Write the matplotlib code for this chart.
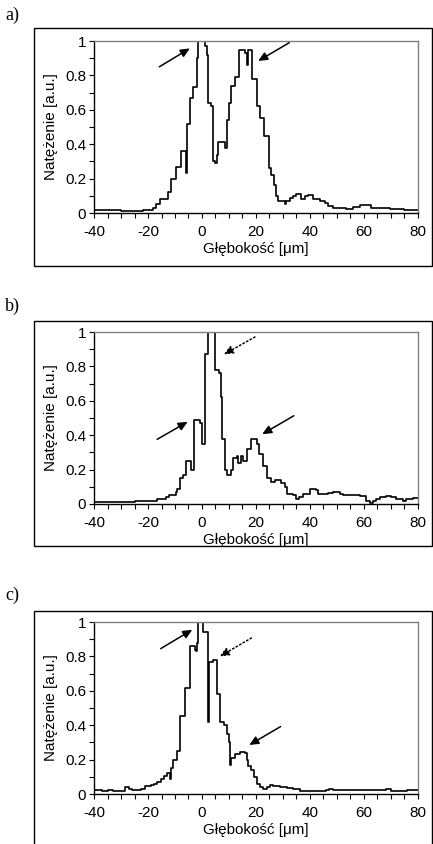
import matplotlib
matplotlib.use('Agg')
import matplotlib.pyplot as plt
from matplotlib.patches import Rectangle
from matplotlib.ticker import MultipleLocator

plt.rcParams['font.family'] = ['Liberation Sans', 'DejaVu Sans']
plt.rcParams['axes.unicode_minus'] = False

# panel a) - step profile (step start, value)
xa = [-40, -30, -22, -19, -18, -17, -15.6, -12.5, -11.3, -9.7, -7.6, -6.0, -5.7, -4.5, -3.2, -2, -1.4,
      1.1, 1.7, 2.3, 3.2, 4.2, 5.0, 5.4, 6, 8.5, 9.1, 10, 10.7, 12.2, 13.7, 15.9, 16.5, 17.1, 18.7,
      20.2, 21.4, 23, 24.9, 25.7, 26.6, 27.3, 28.2, 30.7, 31.2, 32.5, 33.7, 35, 36.8, 38, 39.3, 41.2,
      43.6, 45.5, 46.7, 48.6, 51, 53.5, 56, 58.4, 60.9, 62.7, 65.8, 69.5, 73.2, 75, 80]
ya = [0.015, 0.01, 0.015, 0.02, 0.03, 0.05, 0.08, 0.12, 0.2, 0.27, 0.36, 0.23, 0.52, 0.67, 0.73, 0.9, 1.0,
      0.97, 0.92, 0.64, 0.62, 0.3, 0.29, 0.34, 0.41, 0.38, 0.54, 0.64, 0.74, 0.79, 0.95, 0.93, 0.86, 0.95, 0.78,
      0.62, 0.55, 0.45, 0.26, 0.22, 0.16, 0.1, 0.07, 0.055, 0.07, 0.085, 0.1, 0.11, 0.08, 0.1, 0.105, 0.08,
      0.07, 0.06, 0.04, 0.03, 0.03, 0.025, 0.035, 0.045, 0.045, 0.03, 0.03, 0.025, 0.025, 0.015, 0.015]

# panel b)
xb = [-40, -30, -25, -18, -16.5, -13.5, -12.2, -9.8, -9.1, -8, -7, -6, -4.2, -3, -0.7, 0.1, 1.1, 2.3,
      4.8, 6.3, 6.9, 7.5, 8.4, 9.4, 10.6, 11.6, 13, 13.4, 14.3, 15.3, 16.5, 18, 20.2, 21, 22.7, 23.9,
      25.7, 27, 29.4, 30.7, 31.5, 33.7, 35, 36, 37.5, 39.9, 42.4, 43, 46.7, 48.6, 51, 52.3, 58.4, 60.9,
      62.1, 63.5, 64.6, 66, 68.3, 70, 72, 74.5, 75.7, 78, 80]
yb = [0.01, 0.012, 0.02, 0.02, 0.03, 0.04, 0.05, 0.07, 0.09, 0.15, 0.17, 0.25, 0.2, 0.49, 0.47, 0.35, 0.87, 1.0,
      0.78, 0.76, 0.62, 0.38, 0.2, 0.17, 0.2, 0.27, 0.28, 0.24, 0.28, 0.25, 0.32, 0.38, 0.35, 0.29, 0.22, 0.15,
      0.13, 0.14, 0.12, 0.1, 0.06, 0.05, 0.03, 0.04, 0.06, 0.085, 0.08, 0.06, 0.065, 0.07, 0.06, 0.05, 0.045, 0.02,
      0.008, 0.02, 0.03, 0.04, 0.045, 0.04, 0.03, 0.02, 0.03, 0.035, 0.035]

# panel c)
xc = [-40, -37, -35, -33, -30, -28.5, -27, -26, -22.7, -21, -19, -17.8, -16.5, -15.3, -14.1, -12.8, -11.9,
      -11.6, -10.6, -9.4, -8.2, -6.3, -4.5, -2.6, -2.3, -2, -1.4, 0.5, 2.3, 2.6, 4.2, 5.6, 6.6, 8.1, 9.1,
      10.1, 10.3, 10.9, 12.2, 14, 15.9, 16.5, 17.1, 18.3, 19.3, 20.2, 21.4, 22.7, 23.9, 25.1, 26.4, 28.8,
      31.3, 33.7, 36.2, 45.8, 47, 48.6, 67, 68.3, 70.1, 76, 80]
yc = [0.025, 0.02, 0.025, 0.02, 0.02, 0.04, 0.03, 0.025, 0.03, 0.045, 0.05, 0.06, 0.07, 0.09, 0.105, 0.12, 0.09,
      0.15, 0.2, 0.25, 0.455, 0.615, 0.86, 0.84, 0.83, 0.88, 1.0, 0.94, 0.42, 0.77, 0.78, 0.58, 0.42, 0.4, 0.35,
      0.3, 0.17, 0.21, 0.23, 0.245, 0.24, 0.2, 0.16, 0.14, 0.1, 0.06, 0.04, 0.03, 0.04, 0.05, 0.045, 0.04,
      0.035, 0.03, 0.02, 0.025, 0.03, 0.025, 0.025, 0.03, 0.02, 0.025, 0.025]

# arrows: (tail x, tail y, head x, head y, dotted)
arrows_a = [(-15.8, 0.85, -4.5, 0.957, False), (32.3, 0.99, 20.8, 0.884, False)]
arrows_b = [(19.6, 0.971, 8.1, 0.87, True), (-16.6, 0.376, -5.3, 0.478, False), (34, 0.513, 22.3, 0.406, False)]
arrows_c = [(-15.3, 0.845, -3.6, 0.955, False), (18.3, 0.907, 6.6, 0.8, True), (29.1, 0.392, 17.5, 0.285, False)]

panels = [('a)', xa, ya, arrows_a), ('b)', xb, yb, arrows_b), ('c)', xc, yc, arrows_c)]

W, H = 433, 844
fig = plt.figure(figsize=(W / 100, H / 100), dpi=100)

# pixel layout: axes top/bottom, frame top/bottom, letter y
ax_rows = [(41, 213), (332, 504), (622, 794)]
frame_rows = [(28, 266), (321, 546), (611, 846)]
letter_y = [15, 306, 595]

for i, (lab, x, y, arrs) in enumerate(panels):
    top, bot = ax_rows[i]
    ax = fig.add_axes([94 / W, 1 - bot / H, (418 - 94) / W, (bot - top) / H])
    ax.plot(x, y, drawstyle='steps-post', color='black', lw=1.2)
    ax.set_xlim(-40, 80)
    ax.set_ylim(0, 1)
    ax.xaxis.set_major_locator(MultipleLocator(20))
    ax.xaxis.set_minor_locator(MultipleLocator(5))
    ax.yaxis.set_minor_locator(MultipleLocator(0.1))
    ax.set_yticks([0, 0.2, 0.4, 0.6, 0.8, 1.0])
    ax.set_yticklabels(['0', '0.2', '0.4', '0.6', '0.8', '1'])
    ax.tick_params(which='both', direction='out', length=3.5, width=0.8, labelsize=11)
    ax.tick_params(axis='x', pad=5)
    ax.tick_params(axis='y', pad=2)
    ax.spines['left'].set_linewidth(1.0)
    ax.spines['bottom'].set_linewidth(1.0)
    for s in ('top', 'right'):
        ax.spines[s].set_color('#808080')
        ax.spines[s].set_linewidth(1.0)
    ax.set_xlabel('Głębokość [μm]', fontsize=11, labelpad=2)
    ax.set_ylabel('Natężenie [a.u.]', fontsize=11, labelpad=5)
    for tx, ty, hx, hy, dotted in arrs:
        ax.annotate('', xy=(hx, hy), xytext=(tx, ty),
                    arrowprops=dict(arrowstyle='-|>,head_length=0.55,head_width=0.25', color='black',
                                    lw=1.1, linestyle=':' if dotted else '-', shrinkA=0, shrinkB=0))
    ftop, fbot = frame_rows[i]
    fig.add_artist(Rectangle((34 / W, 1 - fbot / H), (432 - 34) / W, (fbot - ftop) / H,
                             transform=fig.transFigure, fill=False, ec='black', lw=1.0))
    fig.text(5 / W, 1 - letter_y[i] / H, lab, family='Liberation Serif', fontsize=13, va='center', ha='left')

fig.savefig('out.png', dpi=100)
